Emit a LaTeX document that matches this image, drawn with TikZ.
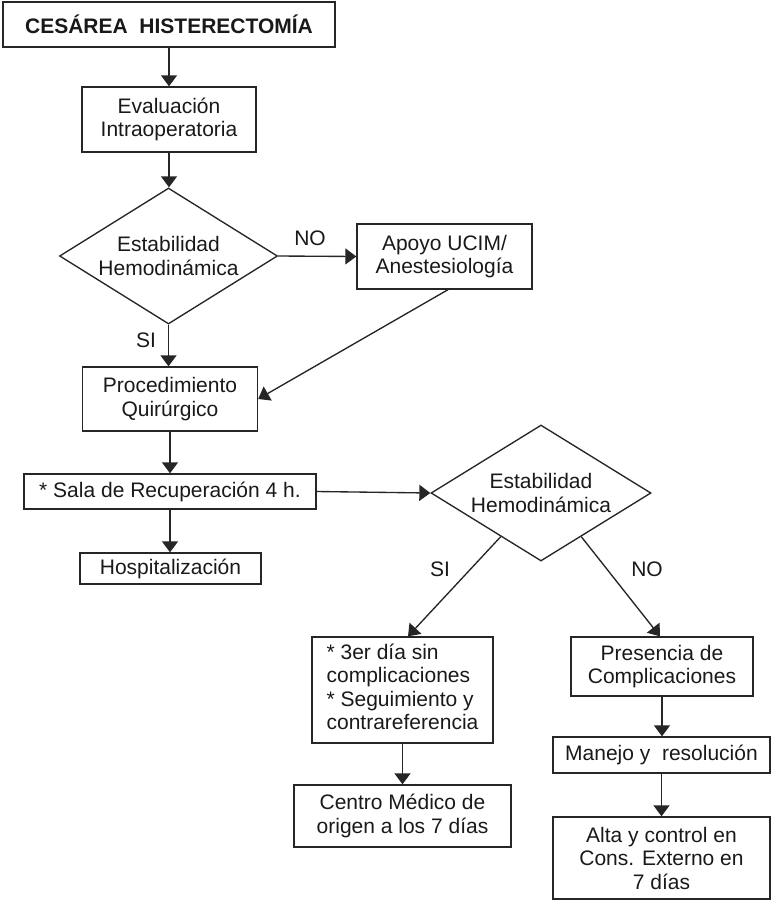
\documentclass[tikz,border=0pt]{standalone}
\usepackage{fontspec}
\setmainfont{Liberation Sans}
\usetikzlibrary{shapes.geometric,arrows.meta,calc}

\begin{document}
\begin{tikzpicture}[x=1pt,y=-1pt,
  every node/.style={font=\fontsize{21}{23.5}\selectfont, text=black!90},
  box/.style={draw=black!85, line width=1.35pt, rectangle, inner sep=0pt, align=center},
  dec/.style={draw=black!85, line width=1.35pt, diamond, aspect=1.6, inner sep=0pt, align=center},
  link/.style={draw=black!85, line width=1.35pt, -{Triangle[width=16pt,length=11pt]}},
  lbl/.style={inner sep=0pt}
]
\useasboundingbox (0,0) rectangle (771,903);

% main column
\node[box, minimum width=332, minimum height=45, font=\fontsize{21}{24}\selectfont\bfseries]
  (title) at (169,24.5) {CESÁREA\ \ HISTERECTOMÍA};
\node[box, minimum width=174, minimum height=65] (eval) at (169,119.5)
  {Evaluación\\Intraoperatoria};
\node[dec, minimum width=218, minimum height=136] (d1) at (168.5,256)
  {Estabilidad\\Hemodinámica};
\node[box, minimum width=175, minimum height=65] (apoyo) at (444.5,256.5)
  {Apoyo UCIM/\\Anestesiología};
\node[box, minimum width=175, minimum height=64] (proc) at (170,399)
  {Procedimiento\\Quirúrgico};
\node[box, minimum width=292, minimum height=35] (sala) at (170,491.5)
  {* Sala de Recuperación 4 h.};
\node[box, minimum width=181, minimum height=31] (hosp) at (170.5,568.5)
  {Hospitalización};

% second decision and its branches
\node[dec, minimum width=220, minimum height=136] (d2) at (541,493)
  {Estabilidad\\Hemodinámica};
\node[box, minimum width=181, minimum height=106] (sin) at (402.5,690)
  {\begin{tabular}{@{}l@{}}* 3er día sin\\complicaciones\\{}* Seguimiento y\\contrareferencia\end{tabular}};
\node[box, minimum width=217, minimum height=62] (centro) at (402.5,816)
  {Centro Médico de\\origen a los 7 días};
\node[box, minimum width=182, minimum height=59] (pres) at (662,666.5)
  {Presencia de\\Complicaciones};
\node[box, minimum width=217, minimum height=36] (manejo) at (661.5,755)
  {Manejo y\ \ resolución};
\node[box, minimum width=217, minimum height=82] (alta) at (661.5,858)
  {Alta y control en\\Cons. Externo en\\7 días};

% branch labels
\node[lbl] (no1) at (310,238) {NO};
\node[lbl] (si1) at (146,340) {SI};
\node[lbl] (si2) at (440,569) {SI};
\node[lbl] (no2) at (647,569) {NO};

% connectors
\draw[link] (title.south) -- (title.south |- eval.north);
\draw[link] (eval.south) -- (eval.south |- d1.north);
\draw[link] (d1.east) -- (apoyo.west);
\draw[link] (d1.south) -- (d1.south |- proc.north);
\draw[link] ([xshift=3.5pt]apoyo.south) -- (proc.east);
\draw[link] (proc.south) -- (proc.south |- sala.north);
\draw[link] (sala.south) -- (sala.south |- hosp.north);
\draw[link] (sala.east) -- (d2.west);
\draw[link] ($(d2.west)!0.636!(d2.south)$) -- ([xshift=5.5pt]sin.north);
\draw[link] ($(d2.east)!0.636!(d2.south)$) -- ([xshift=-2pt]pres.north);
\draw[link] (sin.south) -- (sin.south |- centro.north);
\draw[link] (pres.south) -- (pres.south |- manejo.north);
\draw[link] (manejo.south) -- (manejo.south |- alta.north);
\end{tikzpicture}
\end{document}
